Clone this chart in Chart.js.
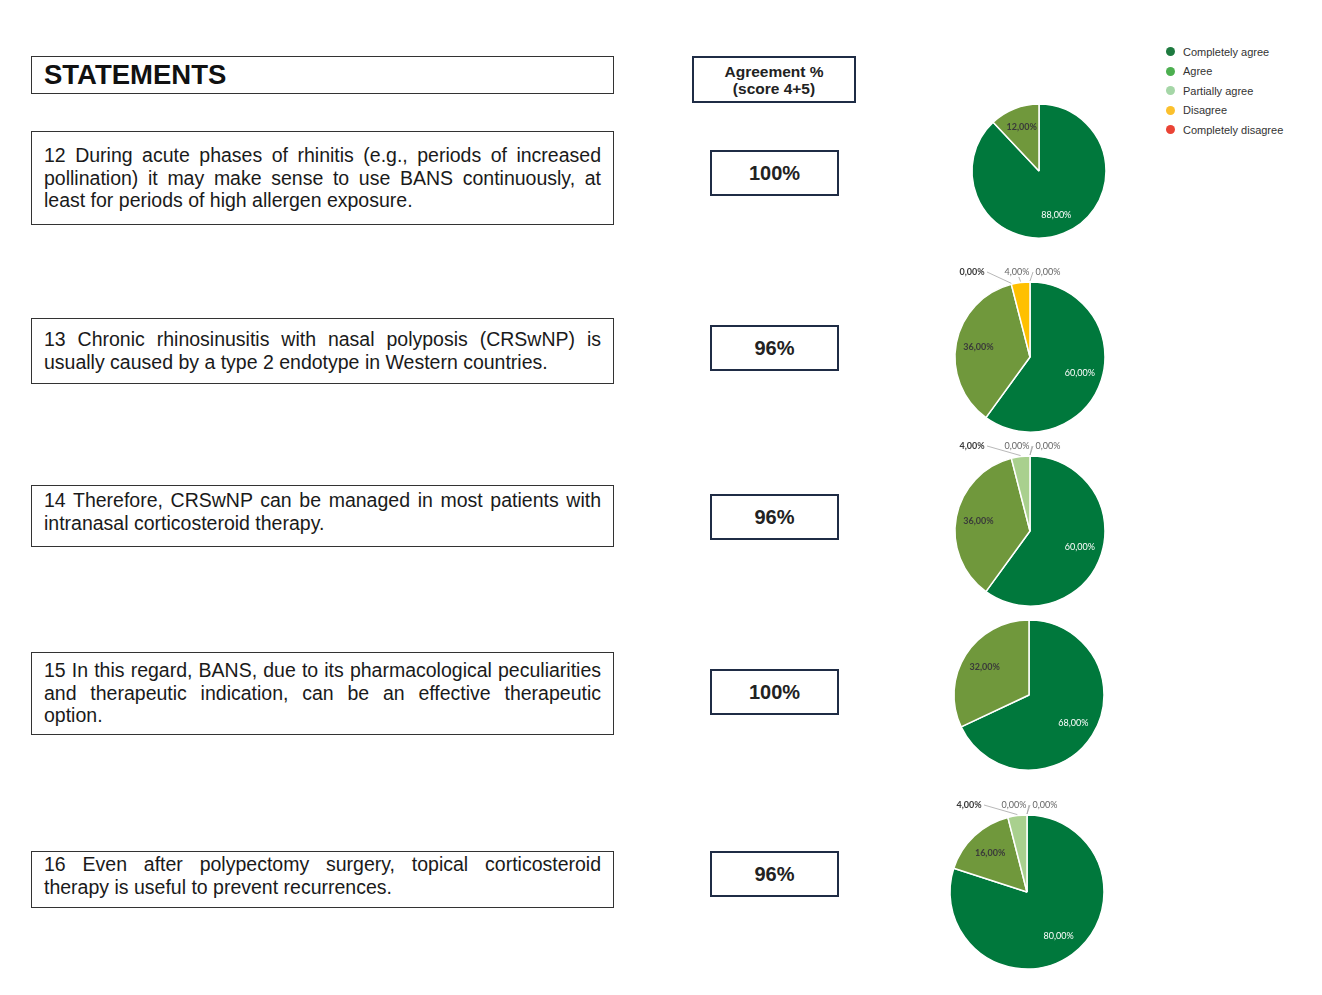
<!DOCTYPE html>
<html>
<head>
<meta charset="utf-8">
<script src="https://cdn.jsdelivr.net/npm/chart.js@4.4.1/dist/chart.umd.min.js"></script>
<style>
  html, body { margin:0; padding:0; background:#fff; }
  body { width:1322px; height:995px; position:relative; overflow:hidden; font-family:"Liberation Sans", Arial, sans-serif; color:#1a1a1a; }
  .box { position:absolute; box-sizing:border-box; }
  .stmt { border:1.5px solid #333; padding:0 12px; font-size:19.5px; line-height:22.5px; }
  .stmt .ln { white-space:nowrap; text-align:justify; text-align-last:justify; }
  .stmt .ln.last { text-align:left; text-align-last:left; }
  .pct { border:2px solid #1f2c45; font-weight:bold; font-size:20px; display:flex; align-items:center; justify-content:center; color:#222; }
  .hdr { border:1.5px solid #333; font-weight:bold; font-size:27.5px; padding-left:12px; display:flex; align-items:center; color:#111; }
  .agr { border:2px solid #1f2c45; font-weight:bold; font-size:15.5px; line-height:17px; text-align:center; display:flex; align-items:center; justify-content:center; color:#222; }
  .pie { position:absolute; }
  #legend { position:absolute; left:1166px; top:42px; font-size:11px; color:#333; }
  #legend .it { height:19.5px; display:flex; align-items:center; }
  #legend .dot { width:9px; height:9px; border-radius:50%; margin-right:8px; }
</style>
</head>
<body>
<div class="box hdr" style="left:31px;top:56px;width:583px;height:38px;">STATEMENTS</div>
<div class="box agr" style="left:692px;top:56px;width:164px;height:47px;">Agreement %<br>(score 4+5)</div>
<div id="legend"></div>
<div id="rows"></div>
<script>
// ---------- data ----------
const categories = ['Completely agree', 'Agree', 'Partially agree', 'Disagree', 'Completely disagree'];
const statementIds = ['12', '13', '14', '15', '16'];
const statementLines = [
  ['12 During acute phases of rhinitis (e.g., periods of increased', 'pollination) it may make sense to use BANS continuously, at', 'least for periods of high allergen exposure.'],
  ['13 Chronic rhinosinusitis with nasal polyposis (CRSwNP) is', 'usually caused by a type 2 endotype in Western countries.'],
  ['14 Therefore, CRSwNP can be managed in most patients with', 'intranasal corticosteroid therapy.'],
  ['15 In this regard, BANS, due to its pharmacological peculiarities', 'and therapeutic indication, can be an effective therapeutic', 'option.'],
  ['16 Even after polypectomy surgery, topical corticosteroid', 'therapy is useful to prevent recurrences.']
];
const agreementLabels = ['100%', '96%', '96%', '100%', '96%'];
const values12 = [88, 12, null, null, null];
const values13 = [60, 36, 0, 4, 0];
const values14 = [60, 36, 4, 0, 0];
const values15 = [68, 32, null, null, null];
const values16 = [80, 16, 4, 0, 0];
const seriesValues = [values12, values13, values14, values15, values16];

// ---------- styles / layout ----------
const pieColors = ['#00783C', '#70983C', '#A9D08E', '#FFC000', '#E8412C'];
const legendColors = ['#1E7A3F', '#4CAF50', '#A5D6A7', '#FBC02D', '#EA4335'];
const labelColors = ['#ffffff', '#3a3a3a', '#3a3a3a', '#666666', '#666666'];
const labelBold = [false, true, true, false, false];
const stmtBoxes = [[131, 94], [318, 66], [485, 62], [652, 83], [851, 57]];   // top, height
const stmtPad = [12, 9, 3, 6, 1];
const pctBoxes = [150, 325, 494, 669, 851];
const pieLayout = [[1039, 171, 67], [1030, 357, 75], [1030, 531, 75], [1029, 695, 75], [1027, 892, 77]];
const LABEL_FONT = '9px Lato, "Open Sans", sans-serif';

// legend
const lg = document.getElementById('legend');
categories.forEach((c, i) => {
  const d = document.createElement('div'); d.className = 'it';
  d.innerHTML = '<span class="dot" style="background:' + legendColors[i] + '"></span>' + c;
  lg.appendChild(d);
});

// rows
const rows = document.getElementById('rows');
statementLines.forEach((lines, i) => {
  const s = document.createElement('div');
  s.className = 'box stmt';
  s.style.cssText = 'left:31px;top:' + stmtBoxes[i][0] + 'px;width:583px;height:' + stmtBoxes[i][1] + 'px;padding-top:' + stmtPad[i] + 'px;';
  lines.forEach((t, j) => {
    const l = document.createElement('div');
    l.className = 'ln' + (j === lines.length - 1 ? ' last' : '');
    l.textContent = t;
    s.appendChild(l);
  });
  rows.appendChild(s);
  const p = document.createElement('div');
  p.className = 'box pct';
  p.style.cssText = 'left:710px;top:' + pctBoxes[i] + 'px;width:129px;height:46px;';
  p.textContent = agreementLabels[i];
  rows.appendChild(p);
});

function fmt(v) { return v.toFixed(2).replace('.', ',') + '%'; }

const pieLabels = {
  id: 'pieLabels',
  afterDatasetsDraw(chart) {
    const ctx = chart.ctx;
    const meta = chart.getDatasetMeta(0);
    const vals = chart.data.datasets[0].data;
    const small = [];
    ctx.save();
    ctx.textAlign = 'center';
    ctx.textBaseline = 'middle';
    meta.data.forEach((arc, i) => {
      const v = vals[i];
      if (v === null || v === undefined) return;
      const p = arc.getProps(['x', 'y', 'startAngle', 'endAngle', 'outerRadius']);
      const mid = (p.startAngle + p.endAngle) / 2;
      ctx.font = (labelBold[i] ? 'bold ' : '') + LABEL_FONT;
      if (v >= 10) {
        const rr = p.outerRadius * 0.7;
        ctx.fillStyle = labelColors[i];
        ctx.fillText(fmt(v), p.x + Math.cos(mid) * rr, p.y + Math.sin(mid) * rr);
      } else {
        small.push({ i, v, ax: p.x + Math.cos(mid) * p.outerRadius, ay: p.y + Math.sin(mid) * p.outerRadius, top: p.y - p.outerRadius });
      }
    });
    if (small.length) {
      const spacing = 31;
      const right = small[small.length - 1].ax + 18;
      small.forEach((s, k) => {
        const lx = right - (small.length - 1 - k) * spacing - (k === 0 && small.length > 2 ? 14 : 0);
        const ly = s.top - 10;
        ctx.strokeStyle = '#a6a6a6';
        ctx.lineWidth = 0.8;
        const dx = s.ax - lx;
        ctx.beginPath();
        if (Math.abs(dx) > 10) {
          ctx.moveTo(lx + Math.sign(dx) * 15, ly);
        } else {
          ctx.moveTo(lx + dx * 0.5, ly + 5);
        }
        ctx.lineTo(s.ax, s.ay - 1);
        ctx.stroke();
        ctx.font = (labelBold[s.i] ? 'bold ' : '') + LABEL_FONT;
        ctx.fillStyle = labelColors[s.i];
        ctx.fillText(fmt(s.v), lx, ly);
      });
    }
    ctx.restore();
  }
};

const SIZE = 260;
seriesValues.forEach((vals, i) => {
  const [cx, cy, r] = pieLayout[i];
  const cv = document.createElement('canvas');
  cv.className = 'pie';
  cv.width = SIZE; cv.height = SIZE;
  cv.style.cssText = 'left:' + (cx - SIZE / 2) + 'px;top:' + (cy - SIZE / 2) + 'px;width:' + SIZE + 'px;height:' + SIZE + 'px;';
  document.body.appendChild(cv);
  new Chart(cv, {
    type: 'pie',
    data: {
      labels: categories,
      datasets: [{ data: vals, backgroundColor: pieColors, borderColor: '#ffffff', borderWidth: 1.5 }]
    },
    options: {
      responsive: false,
      animation: false,
      radius: r,
      layout: { padding: 0 },
      plugins: { legend: { display: false }, tooltip: { enabled: false } }
    },
    plugins: [pieLabels]
  });
});
</script>
</body>
</html>
